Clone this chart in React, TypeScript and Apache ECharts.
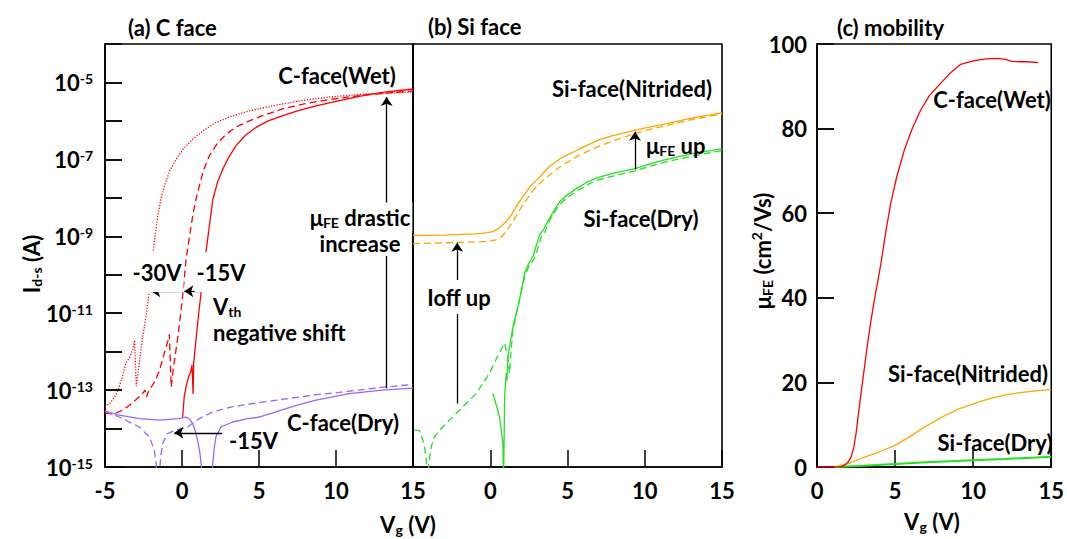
import React, { useEffect, useRef } from "react";
import * as echarts from "echarts";

const FONT = "Lato, 'Open Sans', sans-serif";
const INK = "#000";
const RED = "#ff0000";
const PURPLE = "#9966ff";
const ORANGE = "#ffa500";
const GREEN = "#22e022";

// ---------- (a) C face : [Vg (V), log10(Id-s / A)] ----------
const cWetSolid = [
  [0.04, -13.7], [0.15, -13.15], [0.3, -12.85], [0.45, -12.62], [0.55, -12.55], [0.65, -12.35],
  [0.72, -13.1], [0.76, -12.3], [0.91, -11.69], [1.1, -10.95], [1.3, -10.25], [1.56, -9.4],
  [1.8, -8.65], [2.0, -8.05], [2.3, -7.6], [2.64, -7.26], [3.0, -6.97], [3.5, -6.65], [4.1, -6.38],
  [4.8, -6.17], [5.6, -6.0], [6.5, -5.87], [7.5, -5.74], [8.7, -5.61], [10, -5.49], [11.5, -5.36],
  [13, -5.26], [15, -5.17],
];
const cWetDashed = [
  [-5, -13.6], [-4.5, -13.62], [-4.0, -13.55], [-3.6, -13.45], [-3.2, -13.33], [-2.8, -13.18],
  [-2.56, -13.09], [-2.4, -13.0], [-2.3, -13.18], [-2.2, -13.05], [-1.8, -12.8], [-1.47, -12.5],
  [-1.15, -12.04], [-0.9, -11.7], [-0.82, -11.55], [-0.7, -12.92], [-0.55, -12.4], [-0.28, -11.65],
  [0, -10.72], [0.26, -9.62], [0.45, -9.1], [0.69, -8.48], [0.9, -8.05], [1.12, -7.7], [1.4, -7.28],
  [1.77, -6.91], [2.3, -6.58], [2.86, -6.35], [3.5, -6.16], [4.37, -6.0], [5.4, -5.84], [6.53, -5.69],
  [8.0, -5.55], [9.78, -5.43], [12, -5.32], [15, -5.22],
];
const cWetDotted = [
  [-5, -13.43], [-4.7, -13.35], [-4.4, -13.2], [-4.2, -13.05], [-3.9, -12.7], [-3.64, -12.3],
  [-3.4, -12.15], [-3.2, -11.95], [-3.08, -11.7], [-2.97, -12.9], [-2.85, -12.55], [-2.6, -11.75],
  [-2.34, -11.09], [-2.08, -10.3], [-1.86, -9.35], [-1.58, -8.48], [-1.35, -8.0], [-1.15, -7.7],
  [-0.8, -7.3], [-0.39, -7.0], [0.1, -6.72], [0.69, -6.48], [1.4, -6.25], [2.2, -6.04], [3.2, -5.88],
  [4.37, -5.74], [6.0, -5.6], [7.6, -5.48], [9.5, -5.38], [11.95, -5.3], [15, -5.25],
];
const cDrySolid = [
  [-5, -13.55], [-4.07, -13.65], [-2.77, -13.74], [-1.47, -13.78], [-0.18, -13.74], [0.26, -13.7],
  [0.5, -13.76], [0.69, -13.87], [0.85, -14.05], [1.01, -14.3], [1.15, -14.6], [1.25, -14.95],
  [1.35, -15.6], [1.9, -15.6], [2.0, -14.9], [2.1, -14.5], [2.2, -14.22], [2.53, -13.96],
  [3.29, -13.83], [4.2, -13.75], [5.0, -13.7], [6.0, -13.58], [6.75, -13.48], [7.6, -13.38],
  [8.7, -13.26], [10.86, -13.09], [13, -13.0], [15, -12.95],
];
const cDryDashed = [
  [-5, -13.55], [-4.07, -13.7], [-2.77, -13.96], [-2.12, -14.22], [-1.8, -14.56], [-1.68, -14.9],
  [-1.62, -15.6], [-1.5, -15.6], [-1.4, -14.8], [-1.26, -14.39], [-0.94, -14.13], [-0.39, -14.04],
  [0.36, -13.96], [1.12, -13.74], [1.99, -13.57], [3.29, -13.43], [5.45, -13.3], [8.7, -13.12],
  [10, -13.07], [12.5, -12.95], [15, -12.85],
];

// ---------- (b) Si face : [Vg (V), log10(Id-s / A)] ----------
const siNitSolid = [
  [-5, -8.98], [-3, -8.97], [-1, -8.94], [-0.26, -8.91], [0.17, -8.88], [0.6, -8.78], [0.9, -8.67],
  [1.25, -8.52], [1.7, -8.22], [2.12, -7.96], [2.6, -7.7], [3.0, -7.54], [3.42, -7.36], [3.85, -7.18],
  [4.6, -6.96], [5.58, -6.77], [6.01, -6.68], [7.0, -6.5], [7.75, -6.4], [9.26, -6.25], [10.5, -6.14],
  [11.43, -6.07], [13, -5.93], [15, -5.79],
];
const siNitDashed = [
  [-5, -9.19], [-3, -9.17], [-1, -9.15], [-0.05, -9.13], [0.5, -9.08], [0.82, -8.98], [1.1, -8.83],
  [1.47, -8.61], [1.9, -8.32], [2.34, -8.05], [2.8, -7.8], [3.2, -7.63], [3.64, -7.47], [4.5, -7.2],
  [5.58, -6.93], [6.5, -6.75], [7.75, -6.55], [9.26, -6.34], [10.5, -6.2], [11.43, -6.12],
  [13, -5.97], [15, -5.82],
];
const siDrySolid = [
  [0.17, -13.09], [0.4, -13.4], [0.6, -13.7], [0.82, -14.39], [0.86, -15.5], [0.9, -15.5],
  [0.93, -13.17], [1.04, -12.55], [1.08, -12.75], [1.14, -12.13], [1.47, -11.35], [1.9, -10.65],
  [2.23, -9.95], [2.5, -9.7], [2.77, -9.52], [2.9, -9.35], [3.2, -8.95], [3.42, -8.85], [3.8, -8.55],
  [4.2, -8.28], [4.5, -8.1], [5.0, -7.92], [5.5, -7.78], [6.23, -7.6], [7.0, -7.47], [8.0, -7.36],
  [9.37, -7.24], [10.5, -7.1], [11.43, -7.0], [13, -6.86], [15, -6.72],
];
const siDryDashed = [
  [-4.92, -14.04], [-4.6, -14.05], [-4.4, -14.25], [-4.26, -14.45], [-4.12, -14.9], [-4.05, -15.5],
  [-3.98, -14.9], [-3.8, -14.45], [-3.62, -14.22], [-3.08, -13.96], [-1.99, -13.52], [-0.91, -13.09],
  [-0.05, -12.56], [0.5, -12.1], [0.93, -11.78], [1.05, -12.0], [1.14, -12.13], [1.25, -12.56],
  [1.35, -11.95], [1.47, -11.45], [1.8, -10.8], [2.23, -10.05], [2.5, -9.78], [2.85, -9.58],
  [3.0, -9.42], [3.3, -9.02], [3.5, -8.92], [3.8, -8.62], [4.2, -8.34], [4.5, -8.17], [5.0, -7.99],
  [5.5, -7.85], [6.23, -7.67], [7.0, -7.53], [8.0, -7.43], [9.37, -7.3], [10.5, -7.16],
  [11.43, -7.06], [13, -6.92], [15, -6.77],
];

// ---------- (c) mobility : [Vg (V), muFE (cm2/Vs)] ----------
const muCWet = [
  [0, 0], [0.5, 0], [1.0, 0], [1.5, 0.1], [1.76, 0.4], [2.0, 1.2], [2.19, 2.4], [2.35, 4.5], [2.5, 7.9],
  [2.65, 12.5], [2.82, 17.4], [3.0, 22.5], [3.24, 29.2], [3.45, 34.5], [3.67, 39.4], [4.09, 48],
  [4.4, 55.5], [4.73, 62.5], [5.1, 68.5], [5.58, 74.8], [6.1, 80], [6.64, 84.4], [7.2, 87.8],
  [7.91, 90.7], [8.5, 93], [9.2, 95.2], [10, 96], [10.8, 96.5], [11.5, 96.6], [12, 96.4],
  [12.5, 95.9], [13, 95.8], [13.5, 95.8], [14.16, 95.6],
];
const muSiNit = [
  [1.12, 0], [1.5, 0.3], [2, 0.8], [3, 2.3], [4, 3.6], [5, 5.1], [6, 7.3], [7, 9.7], [8, 11.8],
  [9, 13.6], [10, 14.9], [11, 16.1], [12, 17.0], [13, 17.6], [14, 18.0], [15, 18.3],
];
const muSiDry = [
  [1.12, 0], [3, 0.3], [5, 0.7], [7, 1.1], [10, 1.6], [12, 1.9], [15, 2.4],
];

// tick labels / tick positions
const decadeLabels = [-15, -13, -11, -9, -7, -5];
const decadeTicks = [-14, -13, -12, -11, -10, -9, -8, -7, -6, -5];
const muTicks = [20, 40, 60, 80];

// annotation arrows in data coordinates [from, to]
const arrowsA = [
  [[1.2, -10.43], [0.15, -10.43]],
  [[-0.07, -10.43], [-2.0, -10.43]],
  [[13.29, -12.95], [13.29, -5.38]],
  [[2.6, -14.11], [-0.5, -14.11]],
];
const arrowsB = [
  [[-2.14, -13.35], [-2.14, -9.17]],
  [[9.37, -7.26], [9.37, -6.28]],
];

const TXT = 22;
const richText = {
  m: { fontFamily: FONT, fontWeight: "bold", fontSize: TXT, fill: INK, lineHeight: 25 },
  s: { fontFamily: FONT, fontWeight: "bold", fontSize: 14, fill: INK, lineHeight: 12, verticalAlign: "bottom" },
  p: { fontFamily: FONT, fontWeight: "bold", fontSize: 14, fill: INK, lineHeight: 12, verticalAlign: "top" },
};

function txt(x: number, y: number, text: string, opt: any = {}) {
  const align = opt.align || "center";
  const style: any = {
    text,
    rich: richText,
    fontFamily: FONT,
    fontWeight: "bold",
    fontSize: opt.size || TXT,
    fill: INK,
    align,
    textAlign: align,
    verticalAlign: "middle",
    textVerticalAlign: "middle",
  };
  if (opt.bg) {
    style.backgroundColor = "#fff";
    style.padding = opt.pad;
  }
  return { type: "text", x, y, z: 100, silent: true, rotation: opt.rotation || 0, style };
}

function arrowLine(list: number[][][], extraLines: number[][][] = []) {
  return {
    silent: true,
    symbol: ["none", "arrow"],
    symbolSize: 9,
    animation: false,
    label: { show: false },
    lineStyle: { color: INK, width: 1.3, type: "solid" },
    emphasis: { disabled: true },
    data: [
      ...list.map(([a, b]) => [{ coord: a }, { coord: b }]),
      ...extraLines.map(([a, b]) => [
        { coord: a, symbol: "none", lineStyle: { width: 1.5 } },
        { coord: b, symbol: "none" },
      ]),
    ],
  };
}

// inward tick marks on the left axis (length given in x-axis units, ~17 px)
function tickSegments(xMin: number, len: number, values: number[]) {
  return values.map((v) => [[xMin, v], [xMin + len, v]]);
}

function lineSeries(data: number[][], idx: number, color: string, type: any, width = 1.3, extra: any = {}) {
  return {
    type: "line",
    xAxisIndex: idx,
    yAxisIndex: idx,
    data,
    showSymbol: false,
    symbol: "none",
    silent: true,
    animation: false,
    lineStyle: { color, width, type },
    z: 3,
    ...extra,
  };
}

const tickStyle = { show: true, inside: true, length: 17, lineStyle: { color: INK, width: 1.5 } };
const labelBase = { color: INK, fontFamily: FONT, fontWeight: "bold", fontSize: 22 };
const axisLineStyle = { show: true, onZero: false, lineStyle: { color: INK, width: 1.6 } };

export default function App() {
  const ref = useRef<HTMLDivElement>(null);
  useEffect(() => {
    const chart = echarts.init(ref.current!, null, { renderer: "svg" });
    const grid = (left: number, width: number) => ({
      left, top: 44, width, height: 423, show: true, borderColor: INK, borderWidth: 1.6,
    });
    const logY = (showLabels: boolean) => ({
      type: "value",
      position: "left",
      min: -15,
      max: -4,
      interval: 1,
      axisLine: axisLineStyle,
      splitLine: { show: false },
      axisTick: showLabels ? tickStyle : { show: false },
      axisLabel: showLabels
        ? {
            show: true,
            margin: 12,
            formatter: (v: number) => (decadeLabels.includes(Math.round(v)) ? `{b|10}{s|${Math.round(v)}}` : ""),
            rich: {
              b: { ...labelBase, fontSize: 22, lineHeight: 22, padding: [11, 0, 0, 0], verticalAlign: "bottom" },
              s: { ...labelBase, fontSize: 14, lineHeight: 14, verticalAlign: "top" },
            },
          }
        : { show: false },
    });
    const vx = (min: number, hideMin: boolean) => ({
      type: "value",
      position: "bottom",
      min,
      max: 15,
      interval: 5,
      axisLine: axisLineStyle,
      splitLine: { show: false },
      axisTick: tickStyle,
      axisLabel: { ...labelBase, show: true, margin: 12, showMinLabel: !hideMin },
    });

    chart.setOption({
      animation: false,
      backgroundColor: "#fff",
      grid: [grid(105, 308), grid(413, 309), grid(817, 236)],
      xAxis: [{ ...vx(-5, false), gridIndex: 0 }, { ...vx(-5, true), gridIndex: 1 }, { ...vx(0, false), gridIndex: 2 }],
      yAxis: [
        { ...logY(true), gridIndex: 0 },
        { ...logY(false), gridIndex: 1 },
        {
          type: "value", position: "left", gridIndex: 2, min: 0, max: 100, interval: 20,
          axisLine: axisLineStyle, splitLine: { show: false }, axisTick: tickStyle,
          axisLabel: { ...labelBase, show: true, margin: 10 },
        },
      ],
      series: [
        lineSeries(cWetDotted, 0, RED, [1.2, 1.6]),
        lineSeries(cWetDashed, 0, RED, [7, 4]),
        lineSeries(cWetSolid, 0, RED, "solid", 1.3, {
          markLine: arrowLine(arrowsA, tickSegments(-5, 1.1, decadeTicks)),
        }),
        lineSeries(cDryDashed, 0, PURPLE, [7, 4]),
        lineSeries(cDrySolid, 0, PURPLE, "solid"),
        lineSeries(siNitDashed, 1, ORANGE, [7, 4]),
        lineSeries(siNitSolid, 1, ORANGE, "solid"),
        lineSeries(siDryDashed, 1, GREEN, [7, 4]),
        lineSeries(siDrySolid, 1, GREEN, "solid", 1.3, { markLine: arrowLine(arrowsB) }),
        lineSeries(muSiDry, 2, GREEN, "solid", 2),
        lineSeries(muSiNit, 2, ORANGE, "solid", 1.3, {
          markLine: arrowLine([], tickSegments(0, 1.08, muTicks)),
        }),
        lineSeries(muCWet, 2, RED, "solid"),
      ],
      graphic: [
        txt(128, 27, "(a) C face", { align: "left" }),
        txt(428, 26, "(b) Si face", { align: "left" }),
        txt(837, 27, "(c) mobility", { align: "left" }),
        txt(337, 75, "C-face(Wet)"),
        txt(360, 217, "{m|μ}{s|FE}{m| drastic}", { bg: true, pad: [2, 2] }),
        txt(360, 243, "increase", { bg: true, pad: [2, 2] }),
        txt(157, 272, "-30V", { bg: true, pad: [9, 2] }),
        txt(221, 272, "-15V", { bg: true, pad: [9, 2] }),
        txt(213, 306, "{m|V}{s|th}", { align: "left" }),
        txt(213, 332, "negative shift", { align: "left" }),
        txt(343, 422, "C-face(Dry)"),
        txt(229, 440, "-15V", { align: "left" }),
        txt(632, 88, "Si-face(Nitrided)"),
        txt(646, 145, "{m|μ}{s|FE}{m| up}", { align: "left" }),
        txt(641, 218, "Si-face(Dry)"),
        txt(459, 297, "Ioff up", { bg: true, pad: [6, 2] }),
        txt(992, 99, "C-face(Wet)"),
        txt(968, 373, "Si-face(Nitrided)"),
        txt(995, 442, "Si-face(Dry)"),
        txt(31, 264, "{m|I}{s|d-s}{m| (A)}", { rotation: Math.PI / 2 }),
        txt(408, 524, "{m|V}{s|g}{m| (V)}"),
        txt(932, 521, "{m|V}{s|g}{m| (V)}"),
        txt(762, 251, "{m|μ}{s|FE}{m| (cm}{p|2}{m|/Vs)}", { rotation: Math.PI / 2 }),
      ],
    });
    return () => chart.dispose();
  }, []);
  return (
    <div
      ref={ref}
      style={{ position: "fixed", left: 0, top: 0, width: 1067, height: 539, background: "#fff" }}
    />
  );
}
